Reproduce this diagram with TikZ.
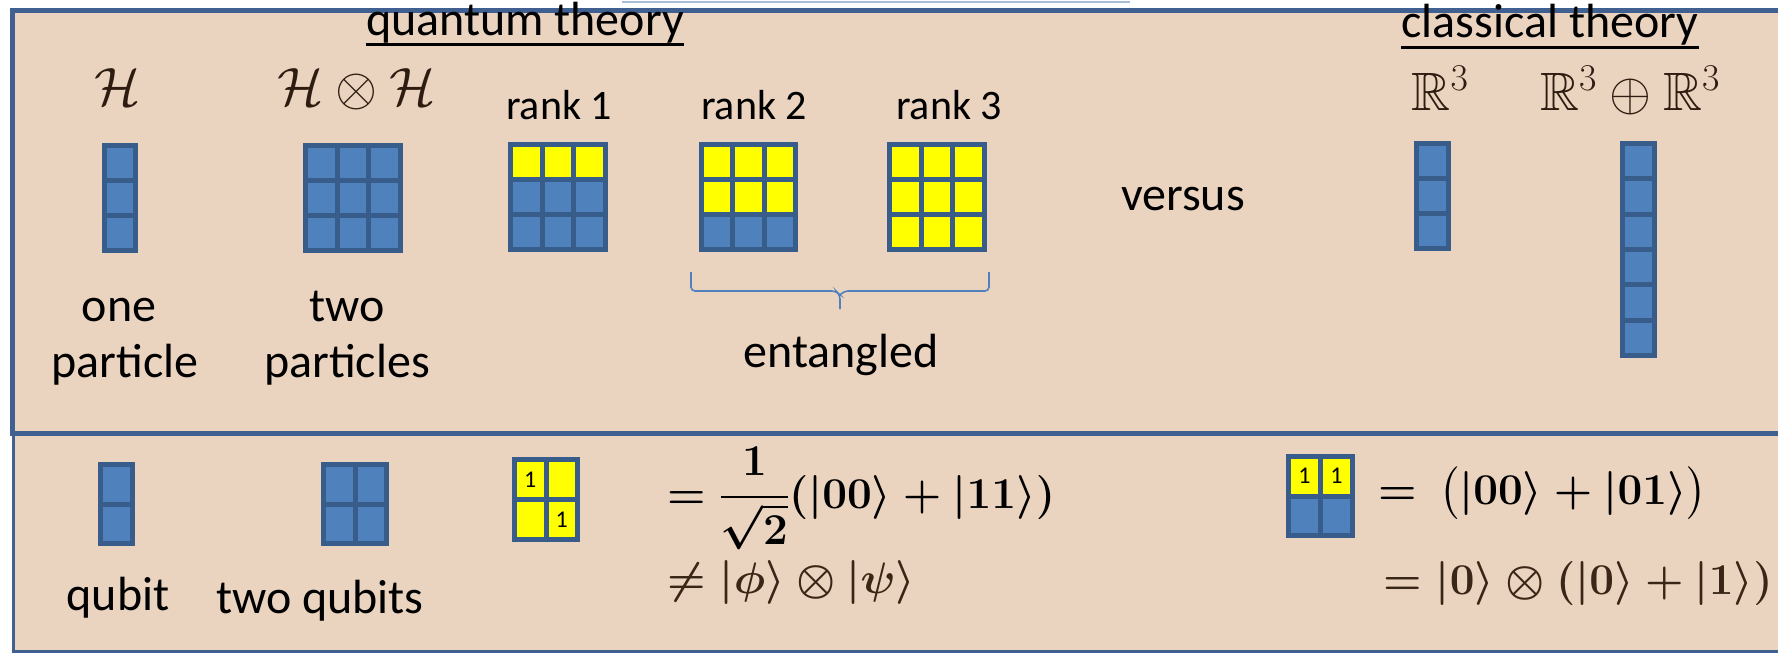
\RequirePackage{fix-cm}
\documentclass[tikz,border=0pt]{standalone}
\usepackage{amsmath,amssymb}
\usepackage{fontspec}
\setmainfont{Carlito}
\usetikzlibrary{calc}
\definecolor{panelfill}{HTML}{EAD4C0}
\definecolor{panelline}{HTML}{3F6090}
\definecolor{cellblue}{HTML}{4F81BD}
\definecolor{cellline}{HTML}{385D8A}
\definecolor{cellyellow}{HTML}{FFFF00}
\definecolor{bracecol}{HTML}{4F81BD}
\definecolor{mathbrown}{HTML}{2E1C10}
\definecolor{formbrown}{HTML}{3A2616}
\definecolor{toplinecol}{HTML}{A9BDD8}

\newcommand{\cellgrid}[8]{% name, L, T, R, B, cols, rows, yellow rows
  \pgfmathsetmacro{\gcw}{(#4-#2-5)/#6}%
  \pgfmathsetmacro{\gch}{(#5-#3-5)/#7}%
  \foreach \r in {1,...,#7}{%
    \foreach \c in {1,...,#6}{%
      \pgfmathsetmacro{\gcx}{#2+2.5+(\c-0.5)*\gcw}%
      \pgfmathsetmacro{\gcy}{#3+2.5+(\r-0.5)*\gch}%
      \ifnum\r>#8 \def\gcf{cellblue}\else\def\gcf{cellyellow}\fi
      \node[cell, fill=\gcf, minimum width=\gcw pt, minimum height=\gch pt] (#1-\r-\c) at (\gcx,\gcy) {};
    }%
  }%
}

\begin{document}
\begin{tikzpicture}[x=1pt,y=-1pt,
  panel/.style={draw=panelline, fill=panelfill},
  cell/.style={rectangle, draw=cellline, line width=5pt, inner sep=0pt, outer sep=0pt},
  lab/.style={font=\fontsize{48}{56}\selectfont, inner sep=0pt, anchor=base},
  ranklab/.style={font=\fontsize{42}{50}\selectfont, inner sep=0pt, anchor=base},
  mathlab/.style={font=\fontsize{54}{60}\selectfont, text=mathbrown, inner sep=0pt, anchor=base},
  formula/.style={font=\fontsize{44}{52}\selectfont\boldmath, text=black, inner sep=0pt, anchor=base west},
  onelab/.style={font=\fontsize{24}{28}\selectfont, inner sep=0pt},
  uline/.style={draw=black, line width=3pt},
  bracestyle/.style={draw=bracecol, line width=1.6pt}
]
\useasboundingbox (0,0) rectangle (1778,653);
\clip (0,0) rectangle (1778,653);
\fill[white] (0,0) rectangle (1778,653);
\draw[toplinecol, line width=2pt] (622,1.5) -- (1130,1.5);

% panels
\draw[panel, line width=3pt] (13,433) rectangle (1800,651);
\draw[panel, line width=5pt] (12,10) rectangle (1800,433);

% grids, top
\cellgrid{gOne}{102}{143}{138}{253}{1}{3}{0}
\cellgrid{gTwo}{303}{143}{403}{253}{3}{3}{0}
\cellgrid{gRa}{508}{142}{608}{252}{3}{3}{1}
\cellgrid{gRb}{699}{142}{798}{252}{3}{3}{2}
\cellgrid{gRc}{887}{142}{987}{252}{3}{3}{3}
\cellgrid{gCa}{1414}{141}{1451}{251}{1}{3}{0}
\cellgrid{gCb}{1620}{141}{1657}{358}{1}{6}{0}
% grids, bottom
\cellgrid{gQ}{98}{462}{135}{546}{1}{2}{0}
\cellgrid{gQQ}{321}{462}{389}{546}{2}{2}{0}
\cellgrid{gE}{512}{457}{580}{542}{2}{2}{2}
\cellgrid{gP}{1286}{454}{1355}{538}{2}{2}{1}

\node[onelab] (eA) at (gE-1-1) {1};
\node[onelab] (eB) at (gE-2-2) {1};
\node[onelab] (pA) at (gP-1-1) {1};
\node[onelab] (pB) at (gP-1-2) {1};

% headings
\node[lab] (qt) at (525,35) {quantum theory};
\draw[uline] ([yshift=-2pt]qt.south west) -- ([yshift=-2pt]qt.south east);
\node[lab] (ct) at (1550,37) {classical theory};
\draw[uline] ([yshift=-3pt]ct.south west) -- ([yshift=-3pt]ct.south east);

% math labels
\node[mathlab] (H1) at (118,105) {$\mathcal{H}$};
\node[mathlab] (H2) at (357,105) {$\mathcal{H}\otimes\mathcal{H}$};
\node[mathlab] (R1) at (1440,110) {$\mathbb{R}^3$};
\node[mathlab] (R2) at (1630,110) {$\mathbb{R}^3\oplus\mathbb{R}^3$};

% rank labels
\node[ranklab] (rk1) at (559,119) {rank 1};
\node[ranklab] (rk2) at (754,119) {rank 2};
\node[ranklab] (rk3) at (949,119) {rank 3};

% text labels
\node[lab] (one) at (119,321) {one};
\node[lab] (part) at (125,377) {particle};
\node[lab] (two) at (347,321) {two};
\node[lab] (parts) at (347,377) {particles};
\node[lab] (vs) at (1183,210) {versus};
\node[lab] (ent) at (841,367) {entangled};
\node[lab] (qb) at (118,610) {qubit};
\node[lab] (tqb) at (320,613) {two qubits};

% brace
\coordinate (bl) at (691,272);
\coordinate (br) at (989,272);
\coordinate (bm) at (840,291);
\coordinate (bt) at (840,309);
\draw[bracestyle, rounded corners=4pt] (bl) |- ($(bm)+(-4,0)$) -- ($(bm)+(0,4)$) -- (bt);
\draw[bracestyle, rounded corners=4pt] (br) |- ($(bm)+(4,0)$) -- ($(bm)+(0,4)$);

% formulas
\node[formula] (f1) at (667,508) {$\displaystyle =\frac{1}{\sqrt{2}}(|00\rangle+|11\rangle)$};
\node[formula, text=formbrown] (f2) at (667,593) {$\neq|\phi\rangle\otimes|\psi\rangle$};
\node[formula] (f3) at (1378,504) {$=\mkern3mu\bigl(|00\rangle+|01\rangle\bigr)$};
\node[formula, text=formbrown] (f4) at (1383,594) {$=|0\rangle\otimes(|0\rangle+|1\rangle)$};
\end{tikzpicture}
\end{document}
